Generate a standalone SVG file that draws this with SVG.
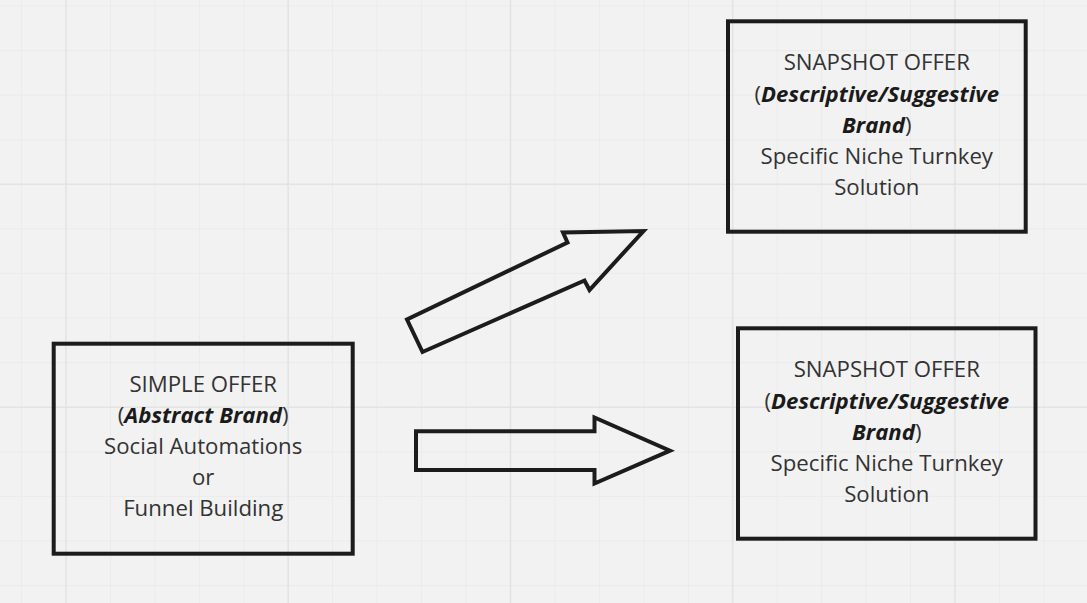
<svg xmlns="http://www.w3.org/2000/svg" width="1087" height="603" viewBox="0 0 1087 603">
<style>
.minor{stroke:#ebebeb;stroke-width:1;fill:none}
.major{stroke:#e3e3e3;stroke-width:1.5;fill:none}
.box{fill:none;stroke:#1c1c1c;stroke-width:4}
.arrow{fill:none;stroke:#1c1c1c;stroke-width:4;stroke-linejoin:miter}
text{font-family:"Open Sans","Noto Sans","Liberation Sans",sans-serif;font-size:22.2px;fill:#333333;text-anchor:middle}
.bi{font-weight:700;font-style:italic;fill:#1a1a1a}
</style>
<rect width="1087" height="603" fill="#f2f2f2"/>
<g id="grid">
<path class="minor" d="M21.5 0V603M110.5 0V603M155 0V603M199.5 0V603M244 0V603M332.5 0V603M377 0V603M421.5 0V603M466 0V603M555 0V603M599.5 0V603M644 0V603M688.5 0V603M777.2 0V603M821.6 0V603M866 0V603M910.5 0V603M999.5 0V603M1044 0V603"/>
<path class="minor" d="M0 6H1087M0 50.6H1087M0 95.2H1087M0 139.8H1087M0 228.8H1087M0 273.4H1087M0 318H1087M0 362.6H1087M0 451.8H1087M0 496.4H1087M0 541H1087M0 585.6H1087"/>
<path class="major" d="M66 0V603M288.2 0V603M510.5 0V603M732.7 0V603M955 0V603M0 184.2H1087M0 407.2H1087"/>
</g>
<g id="connectors">
<polygon class="arrow" points="422.5,352 407,319.5 567.5,242.5 563,232.5 643.5,231 589.5,290 584.5,280.5"/>
<polygon class="arrow" points="416,431.3 594.5,431.3 594.5,417.5 670,450.7 594.5,483.5 594.5,470 416,470"/>
</g>
<g id="simple-offer">
<rect class="box" x="53.7" y="343.7" width="299" height="210"/>
<text x="203.2" y="391.7">SIMPLE OFFER</text>
<text x="203.2" y="422.8">(<tspan class="bi">Abstract Brand</tspan>)</text>
<text x="203.2" y="454">Social Automations</text>
<text x="203.2" y="485">or</text>
<text x="203.2" y="516">Funnel Building</text>
</g>
<g id="snapshot-offer-1">
<rect class="box" x="728" y="21.3" width="297.7" height="210.4"/>
<text x="876.8" y="70">SNAPSHOT OFFER</text>
<text x="876.8" y="101.5">(<tspan class="bi">Descriptive/Suggestive</tspan></text>
<text x="876.8" y="132.7"><tspan class="bi">Brand</tspan>)</text>
<text x="876.8" y="164">Specific Niche Turnkey</text>
<text x="876.8" y="195">Solution</text>
</g>
<g id="snapshot-offer-2">
<rect class="box" x="738" y="328.3" width="297.5" height="210.4"/>
<text x="886.8" y="377">SNAPSHOT OFFER</text>
<text x="886.8" y="408.5">(<tspan class="bi">Descriptive/Suggestive</tspan></text>
<text x="886.8" y="439.7"><tspan class="bi">Brand</tspan>)</text>
<text x="886.8" y="471">Specific Niche Turnkey</text>
<text x="886.8" y="502">Solution</text>
</g>
</svg>
